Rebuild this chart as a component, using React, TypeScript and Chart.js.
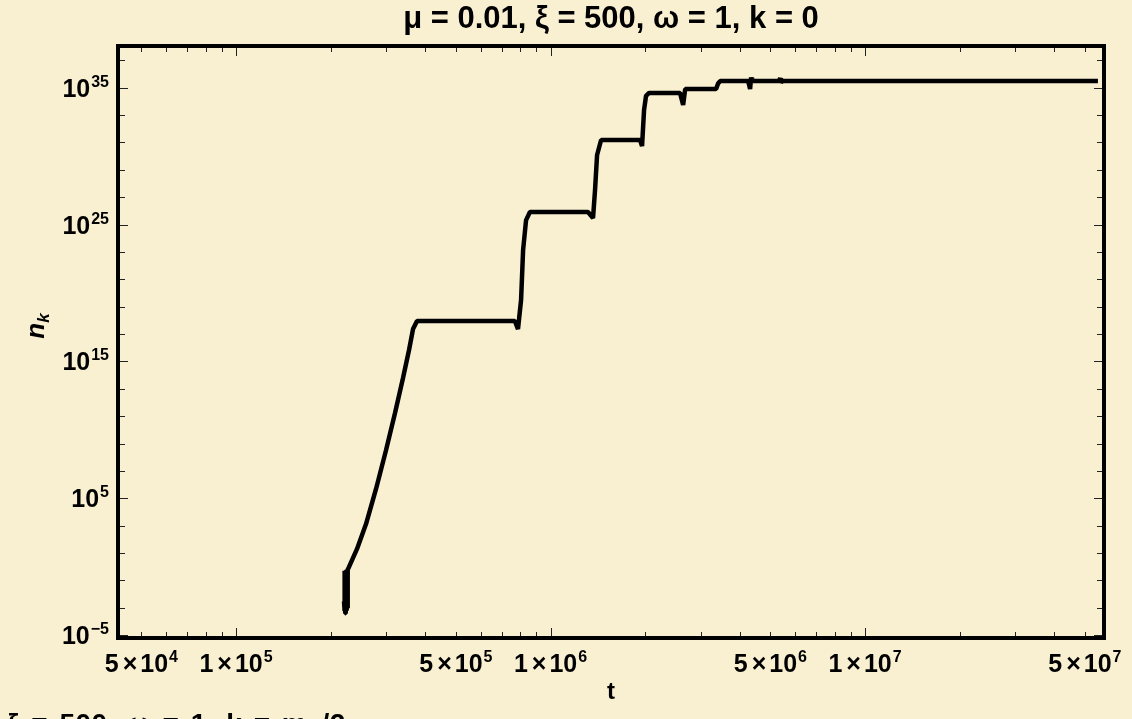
import React, { useEffect, useRef } from "react";
import { Chart, registerables } from "chart.js";

Chart.register(...registerables);

// ---------- text ----------
const TITLE = "μ = 0.01, ξ = 500, ω = 1, k = 0";
const X_TITLE = "t";
const Y_TITLE_BASE = "n";
const Y_TITLE_SUB = "k";

// ---------- axis ranges & ticks ----------
const X_MIN = 4.215e4;
const X_MAX = 5.75e7;
const Y_MIN = 6.2e-6;
const Y_MAX = 1.1e38;

const X_LABELED_TICKS = [5e4, 1e5, 5e5, 1e6, 5e6, 1e7, 5e7];
const Y_LABELED_TICKS = [1e-5, 1e5, 1e15, 1e25, 1e35];

const X_MINOR_TICKS = [
  5e4, 6e4, 7e4, 8e4, 9e4,
  1e5, 2e5, 3e5, 4e5, 5e5, 6e5, 7e5, 8e5, 9e5,
  1e6, 2e6, 3e6, 4e6, 5e6, 6e6, 7e6, 8e6, 9e6,
  1e7, 2e7, 3e7, 4e7, 5e7,
];
const X_MAJOR_TICKS = [1e5, 1e6, 1e7];

const Y_MINOR_TICKS = [
  1e-5, 1e-3, 1e-1, 1e1, 1e3, 1e5, 1e7, 1e9, 1e11, 1e13, 1e15, 1e17, 1e19,
  1e21, 1e23, 1e25, 1e27, 1e29, 1e31, 1e33, 1e35, 1e37,
];

// ---------- series (t, n_k) ----------
const tValues = [
  // oscillating start
  2.205e5, 2.21e5, 2.215e5, 2.22e5, 2.225e5, 2.23e5, 2.235e5, 2.24e5, 2.245e5, 2.25e5, 2.255e5, 2.26e5, 2.265e5,
  // growth
  2.27e5, 2.425e5, 2.59e5, 2.787e5, 3.0e5, 3.203e5, 3.396e5, 3.549e5, 3.654e5, 3.763e5,
  // step 1
  7.7e5, 7.88e5, 8.06e5, 8.18e5, 8.36e5, 8.6e5,
  // step 2
  1.315e6, 1.365e6, 1.385e6, 1.406e6, 1.448e6,
  // step 3
  1.926e6, 1.954e6, 1.983e6, 2.012e6, 2.057e6,
  // small step with dip
  2.58e6, 2.64e6, 2.68e6,
  // step 4
  3.36e6, 3.41e6, 3.46e6,
  // spike
  4.25e6, 4.31e6, 4.34e6, 4.37e6,
  // small mark
  5.33e6, 5.37e6, 5.4e6, 5.44e6,
  // end
  5.5e7,
];

const nValues = [
  3e-3, 0.45, 6e-4, 0.5, 4e-4, 0.5, 5e-4, 0.55, 6e-4, 0.6, 1e-3, 0.65, 0.7,
  0.58, 20, 1.3e3, 4.8e5, 3.4e8, 1.7e11, 6.1e13, 6.8e15, 2.3e17, 8.9e17,
  8.9e17, 2.3e17, 3e19, 1.35e23, 2.1e25, 8.1e25,
  8.1e25, 3e25, 3.3e27, 1.2e30, 1.5e31,
  1.5e31, 5.4e30, 2.3e33, 2.5e34, 4.1e34,
  4.1e34, 5.4e33, 7.9e34,
  7.9e34, 2e35, 3e35,
  3e35, 8e34, 5.5e35, 3e35,
  3e35, 5e35, 2.2e35, 3e35,
  3e35,
];

// ---------- style ----------
const BG = "#F9F0D2";
const FONT = '"Liberation Sans", Arial, sans-serif';
const LABEL_FONT = `bold 25px ${FONT}`;
const SUP_FONT = `bold 16px ${FONT}`;

const expOf = (v: number) => Math.floor(Math.log10(v) + 1e-9);
const supText = (e: number) => (e < 0 ? "−" + String(-e) : String(e));
const isIn = (arr: number[], v: number) => arr.some((a) => Math.abs(a / v - 1) < 1e-6);

const fmtX = (v: number) => {
  const e = expOf(v);
  const m = Math.round(v / Math.pow(10, e));
  return `${m}×10^${e}`;
};
const fmtY = (v: number) => `10^${Math.round(Math.log10(v))}`;

const framePlugin = {
  id: "mmaFrame",
  afterDraw(chart: any) {
    const { ctx, chartArea } = chart;
    const { left, right, top, bottom } = chartArea;
    const xs = chart.scales.x;
    const ys = chart.scales.y;
    ctx.save();

    // inward ticks on all four sides
    ctx.strokeStyle = "#222";
    ctx.lineWidth = 1;
    ctx.beginPath();
    for (const v of X_MINOR_TICKS) {
      const px = Math.round(xs.getPixelForValue(v)) + 0.5;
      const len = isIn(X_MAJOR_TICKS, v) ? 10 : 6;
      ctx.moveTo(px, bottom);
      ctx.lineTo(px, bottom - len);
      ctx.moveTo(px, top);
      ctx.lineTo(px, top + len);
    }
    for (const v of Y_MINOR_TICKS) {
      const py = Math.round(ys.getPixelForValue(v)) + 0.5;
      const len = isIn(Y_LABELED_TICKS, v) ? 10 : 7;
      ctx.moveTo(left, py);
      ctx.lineTo(left + len, py);
      ctx.moveTo(right, py);
      ctx.lineTo(right - len, py);
    }
    ctx.stroke();

    // frame
    ctx.strokeStyle = "#000";
    ctx.lineWidth = 4;
    ctx.strokeRect(left, top, right - left, bottom - top);

    // tick labels with real superscripts
    ctx.fillStyle = "#000";
    ctx.textBaseline = "alphabetic";
    ctx.textAlign = "left";
    for (const v of X_LABELED_TICKS) {
      const px = xs.getPixelForValue(v);
      const e = expOf(v);
      const m = String(Math.round(v / Math.pow(10, e)));
      const sp = supText(e);
      ctx.font = LABEL_FONT;
      const wm = ctx.measureText(m).width;
      const wx = ctx.measureText("×").width;
      const wt = ctx.measureText("10").width;
      ctx.font = SUP_FONT;
      const ws = ctx.measureText(sp).width;
      const total = wm + 4 + wx + 3 + wt + 1 + ws;
      let cx = px - total / 2;
      const base = bottom + 34;
      ctx.font = LABEL_FONT;
      ctx.fillText(m, cx, base);
      cx += wm + 4;
      ctx.fillText("×", cx, base);
      cx += wx + 3;
      ctx.fillText("10", cx, base);
      cx += wt + 1;
      ctx.font = SUP_FONT;
      ctx.fillText(sp, cx, base - 10);
    }
    for (const v of Y_LABELED_TICKS) {
      const py = ys.getPixelForValue(v);
      const sp = supText(Math.round(Math.log10(v)));
      ctx.font = SUP_FONT;
      const ws = ctx.measureText(sp).width;
      const rightEdge = left - 9;
      ctx.fillText(sp, rightEdge - ws, py - 1);
      ctx.font = LABEL_FONT;
      const wt = ctx.measureText("10").width;
      ctx.fillText("10", rightEdge - ws - 1 - wt, py + 9);
    }

    // y-axis title n_k (rotated)
    ctx.translate(36, (top + bottom) / 2 - 16);
    ctx.rotate(-Math.PI / 2);
    ctx.font = `italic bold 26px ${FONT}`;
    const wBase = ctx.measureText(Y_TITLE_BASE).width;
    ctx.font = `italic bold 17px ${FONT}`;
    const wSub = ctx.measureText(Y_TITLE_SUB).width;
    const x0 = -(wBase + wSub) / 2;
    ctx.font = `italic bold 26px ${FONT}`;
    ctx.fillText(Y_TITLE_BASE, x0, 8);
    ctx.font = `italic bold 17px ${FONT}`;
    ctx.fillText(Y_TITLE_SUB, x0 + wBase, 13);
    ctx.restore();
  },
};

export default function App() {
  const ref = useRef<HTMLCanvasElement>(null);

  useEffect(() => {
    const points = tValues.map((t, i) => ({ x: t, y: nValues[i] }));
    const chart = new Chart(ref.current as HTMLCanvasElement, {
      type: "line",
      data: {
        datasets: [
          {
            label: "n_k",
            data: points,
            borderColor: "#000",
            backgroundColor: "#000",
            borderWidth: 4.5,
            pointRadius: 0,
            tension: 0,
            borderJoinStyle: "bevel",
            borderCapStyle: "butt",
            fill: false,
          },
        ],
      },
      options: {
        animation: false,
        responsive: false,
        devicePixelRatio: 1,
        layout: { padding: { left: 118, right: 28, top: 0, bottom: 0 } },
        plugins: {
          legend: { display: false },
          tooltip: { enabled: false },
          title: {
            display: true,
            text: TITLE,
            color: "#000",
            font: { family: FONT, size: 31, weight: "bold" },
            padding: { top: 1, bottom: 46 - 1 - 31 * 1.2 },
          },
        },
        scales: {
          x: {
            type: "logarithmic",
            min: X_MIN,
            max: X_MAX,
            afterBuildTicks: (s: any) => {
              s.ticks = X_LABELED_TICKS.map((v) => ({ value: v }));
            },
            afterFit: (s: any) => {
              s.height = 81;
            },
            ticks: {
              display: false,
              autoSkip: false,
              callback: (v: any) => fmtX(Number(v)),
            },
            grid: { display: false, drawTicks: false },
            border: { display: false },
            title: {
              display: true,
              text: X_TITLE,
              color: "#000",
              font: { family: FONT, size: 24, weight: "bold" },
              padding: { top: 0, bottom: 12 },
            },
          },
          y: {
            type: "logarithmic",
            min: Y_MIN,
            max: Y_MAX,
            afterBuildTicks: (s: any) => {
              s.ticks = Y_LABELED_TICKS.map((v) => ({ value: v }));
            },
            afterFit: (s: any) => {
              s.width = 0;
            },
            ticks: {
              display: false,
              autoSkip: false,
              callback: (v: any) => fmtY(Number(v)),
            },
            grid: { display: false, drawTicks: false },
            border: { display: false },
          },
        },
      },
      plugins: [framePlugin],
    } as any);
    return () => chart.destroy();
  }, []);

  return (
    <div
      style={{
        position: "fixed",
        left: 0,
        top: 0,
        width: 1132,
        height: 719,
        overflow: "hidden",
        background: BG,
      }}
    >
      <canvas
        ref={ref}
        width={1132}
        height={719}
        style={{ position: "absolute", left: 0, top: 0, width: 1132, height: 719 }}
      />
      <div
        style={{
          position: "absolute",
          left: 7,
          top: 710,
          font: `bold 28px ${FONT}`,
          lineHeight: "28px",
          letterSpacing: "0.5px",
          wordSpacing: "3px",
          whiteSpace: "nowrap",
          color: "#000",
        }}
      >
        ξ = 500, ω = 1, k = m<sub style={{ fontSize: "65%" }}>ϕ</sub>/2
      </div>
    </div>
  );
}
